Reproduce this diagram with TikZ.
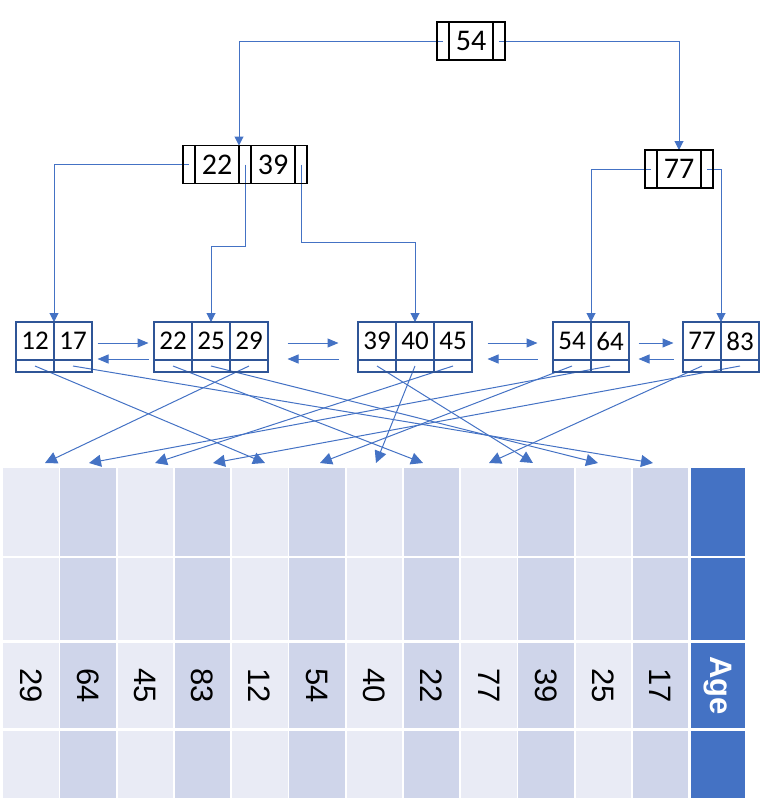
\documentclass[tikz,border=0pt]{standalone}
\usepackage{fontspec}
\setmainfont{Carlito}
\newfontfamily\tablefont{Liberation Sans}
\usepackage{xcolor}
\usepackage{tikz}
\usetikzlibrary{
    positioning,
    arrows.meta,
    backgrounds
}
\definecolor{PtrBlue}{HTML}{4472C4}
\definecolor{LeafBlue}{HTML}{2F5597}
\definecolor{ColLight}{HTML}{E9EBF5}
\definecolor{ColDark}{HTML}{CFD5EA}
\tikzset{
    leafkey/.style={
        rectangle,
        draw=LeafBlue,
        line width=2pt,
        minimum width=38pt,
        minimum height=38pt,
        inner sep=0pt,
        outer sep=0pt,
        font=\fontsize{27}{30}\selectfont,
    },
    leafptr/.style={
        leafkey,
        minimum height=12pt,
    },
    innerkey/.style={
        rectangle,
        draw=black,
        line width=1.5pt,
        minimum width=44pt,
        minimum height=38pt,
        inner sep=0pt,
        outer sep=0pt,
        font=\fontsize{30}{32}\selectfont,
    },
    innerslot/.style={
        innerkey,
        minimum width=12pt,
    },
    edge/.style={
        ->,
        draw=PtrBlue,
        line width=1pt,
    },
}

\begin{document}
\begin{tikzpicture}[x=1pt,y=-1pt]

            \tikzset{
                tree/.style={edge,>={Triangle[width=9pt,length=9pt]}},
                sib/.style={edge,>={Triangle[width=9pt,length=11pt]}},
                rowptr/.style={edge,>={Triangle[width=12pt,length=12pt]}},
                colval/.style={rotate=-90,font=\tablefont\fontsize{31}{34}\selectfont},
                colhead/.style={colval,text=white,font=\tablefont\bfseries\fontsize{31}{34}\selectfont},
            }
            \useasboundingbox (0,0) rectangle (775,804);

            \node[innerslot] (r0) at (443,41) {};
            \node[innerkey,right=0pt of r0] (r54) {54};
            \node[innerslot,right=0pt of r54] (r1) {};

            \node[innerslot] (n0) at (189,164.5) {};
            \node[innerkey,right=0pt of n0] (n22) {22};
            \node[innerslot,right=0pt of n22] (n1) {};
            \node[innerkey,right=0pt of n1] (n39) {39};
            \node[innerslot,right=0pt of n39] (n2) {};

            \node[innerslot] (m0) at (651,169) {};
            \node[innerkey,right=0pt of m0] (m77) {77};
            \node[innerslot,right=0pt of m77] (m1) {};

            \node[leafkey] (k12) at (35,341) {12};
            \node[leafkey,right=0pt of k12] (k17) {17};
            \node[leafkey] (k22) at (173,341) {22};
            \node[leafkey,right=0pt of k22] (k25) {25};
            \node[leafkey,right=0pt of k25] (k29) {29};
            \node[leafkey] (k39) at (377,341) {39};
            \node[leafkey,right=0pt of k39] (k40) {40};
            \node[leafkey,right=0pt of k40] (k45) {45};
            \node[leafkey] (k54) at (572,341) {54};
            \node[leafkey,right=0pt of k54] (k64) {64};
            \node[leafkey] (k77) at (702,341) {77};
            \node[leafkey,right=0pt of k77] (k83) {83};
            \foreach \k in {12,17,22,25,29,39,40,45,54,64,77,83}
                \node[leafptr,below=0pt of k\k] (p\k) {};

            \foreach \v/\shade [count=\i] in {29/ColLight,64/ColDark,45/ColLight,83/ColDark,12/ColLight,54/ColDark,
                                              40/ColLight,22/ColDark,77/ColLight,39/ColDark,25/ColLight,17/ColDark}{
                \pgfmathsetmacro\cx{3+57.25*(\i-1)}
                \foreach \ry/\rh in {468/88,558/82,643/85,731/67}
                    \fill[\shade] (\cx,\ry) rectangle ++(55.5,\rh);
                \node[colval] (v\v) at (\cx+27.75,685.5) {\v};
            }
            \foreach \ry/\rh in {468/88,558/82,643/85,731/67}
                \fill[PtrBlue] (691,\ry) rectangle ++(54,\rh);
            \node[colhead] (age) at (718,685.5) {Age};

            \begin{scope}[on background layer]
                \draw[tree] (r0.center) -| (n22.north east);
                \draw[tree] (r1.center) -| (m77.north);

                \draw[tree] (n0.center) -| (k12.north east);
                \draw[tree] (n1.center) -- ++(0,82) -| (k25.north);
                \draw[tree] (n2.center) -- ++(0,78) -| (k40.north);
                \draw[tree] (m0.center) -| (k54.north east);
                \draw[tree] (m1.center) -| (k77.north east);

                \foreach \a/\b/\s in {k17/k22/5.5,k29/k39/19.5,k45/k54/15.5,k64/k77/9.5}{
                    \draw[sib,shorten <=\s pt,shorten >=\s pt] ([yshift=-2pt]\a.east) -- ([yshift=-2pt]\b.west);
                    \draw[sib,shorten <=\s pt,shorten >=\s pt] ([yshift=-18pt]\b.west) -- ([yshift=-18pt]\a.east);
                }

                \foreach \k/\x in {29/45,64/89,45/155,83/213,12/265,54/320,40/376,22/423,77/489,39/533,25/598,17/653}{
                    \coordinate (t\k) at (\x,463);
                    \draw[rowptr] (p\k.center) -- (t\k);
                }
            \end{scope}
        \end{tikzpicture}
\end{document}
